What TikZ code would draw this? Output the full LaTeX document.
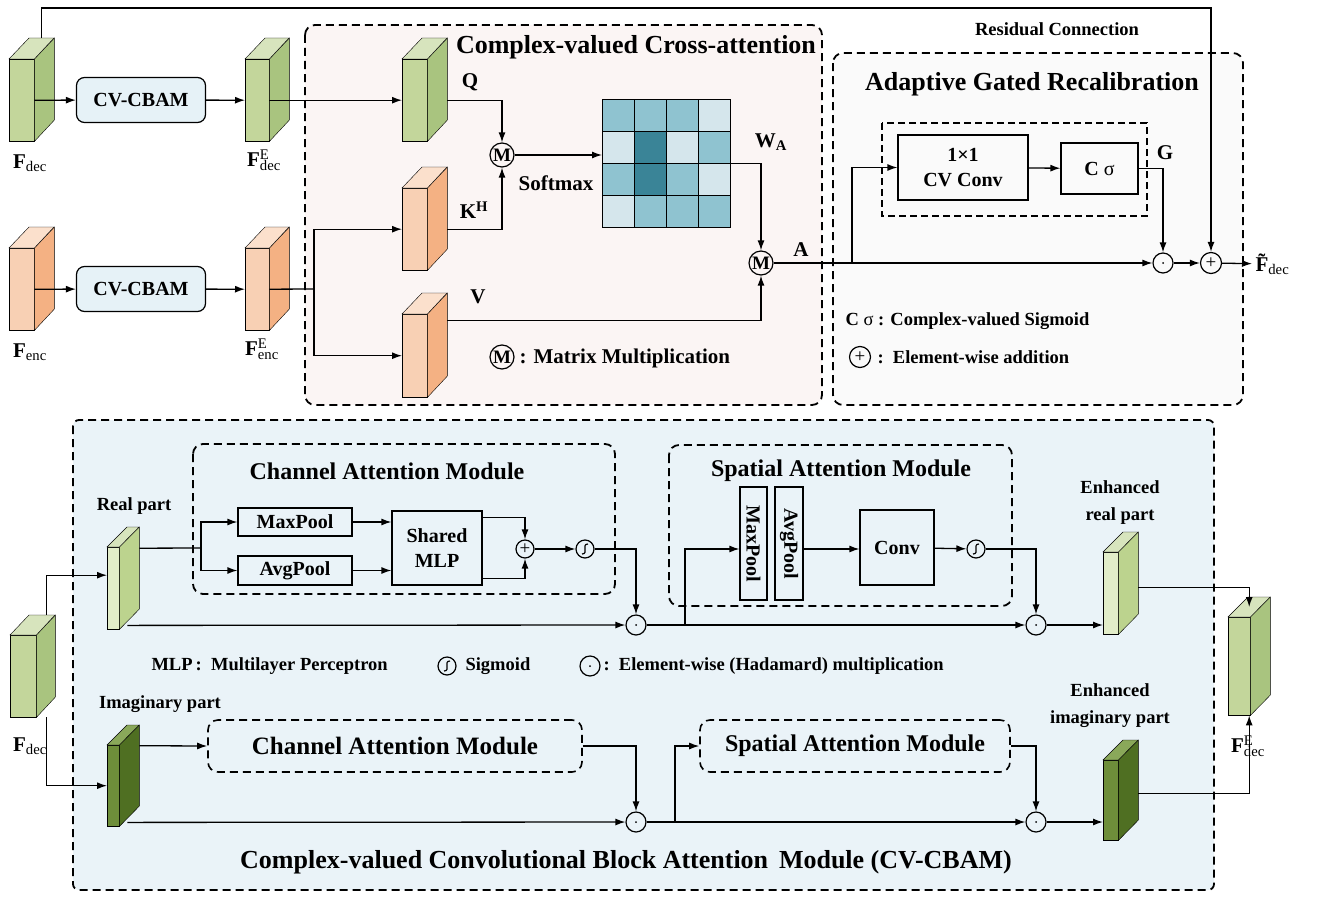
\documentclass[tikz,border=0pt]{standalone}
\usepackage{fontspec}
\setmainfont{Liberation Serif}
\usetikzlibrary{arrows.meta,calc}

\definecolor{gr-f}{HTML}{C3D69B}
\definecolor{gr-s}{HTML}{A9C47F}
\definecolor{gr-t}{HTML}{D7E4BD}
\definecolor{or-f}{HTML}{F8D0B4}
\definecolor{or-s}{HTML}{F4B183}
\definecolor{or-t}{HTML}{FBE0CC}
\definecolor{lg-f}{HTML}{E2EDC9}
\definecolor{lg-s}{HTML}{BCD38E}
\definecolor{lg-t}{HTML}{D7E4BD}
\definecolor{dg-f}{HTML}{6E8E3A}
\definecolor{dg-s}{HTML}{4F6F22}
\definecolor{dg-t}{HTML}{8AA85A}
\definecolor{wa-l}{HTML}{D5E6EC}
\definecolor{wa-m}{HTML}{8FC3D0}
\definecolor{wa-d}{HTML}{3A8497}
\definecolor{cbamfill}{HTML}{E6F2F7}
\definecolor{crossfill}{HTML}{FBF5F4}
\definecolor{agrfill}{HTML}{FAFAFA}
\definecolor{panelfill}{HTML}{EAF3F8}

% feature map: name, x, y, width, height, dx, dy, colour scheme
\newcommand{\fmap}[8]{%
  \node[draw, fill=#8-f, minimum width=#4, minimum height=#5, inner sep=0,
        anchor=north west] (#1) at (#2,#3) {};
  \draw[fill=#8-s] (#1.north east) -- ++(#6,-#7) -- ++(0,#5) -- (#1.south east) -- cycle;
  \draw[fill=#8-t] (#1.north west) -- ++(#6,-#7) -- ++(#4,0) -- (#1.north east) -- cycle;}
\newcommand{\fsub}[2]{F\rlap{\textsuperscript{\normalfont #1}}\textsubscript{\normalfont #2}}

\tikzset{
  arr/.style={-{Latex[length=10pt,width=7pt]}, line width=1.3pt},
  ln/.style={line width=1.3pt},
  frame/.style={dashed, line width=1.8pt, dash pattern=on 8pt off 5pt, rounded corners=10pt},
  box/.style={draw, line width=1.2pt, inner sep=0, font=\fontsize{20}{23}\selectfont\bfseries},
  cbam/.style={box, rounded corners=8pt, fill=cbamfill},
  lbl/.style={font=\fontsize{21}{23}\selectfont\bfseries},
  sml/.style={font=\fontsize{18.5}{21}\selectfont\bfseries},
  ttl/.style={font=\fontsize{26}{28}\selectfont\bfseries},
  mc/.style={circle, draw, line width=1.2pt, minimum size=24pt, inner sep=0,
             font=\fontsize{19}{20}\selectfont\bfseries},
  pl/.style={circle, draw, line width=1.2pt, minimum size=21pt, inner sep=0,
             font=\fontsize{19}{20}\selectfont},
  od/.style={circle, draw, line width=1.2pt, minimum size=20pt, inner sep=0,
             path picture={\fill (path picture bounding box.center) circle (1pt);}},
  sg/.style={circle, draw, line width=1.2pt, minimum size=18pt, inner sep=0,
             path picture={\draw[line width=1.2pt] (path picture bounding box.center) ++(-3pt,-5pt)
               .. controls +(7pt,0pt) and +(-7pt,0pt) .. ++(6pt,10pt);}}
}

\begin{document}
\begin{tikzpicture}[x=1pt, y=-1pt]
\useasboundingbox (0,0) rectangle (1321,899);

% ---------- frames ----------
\draw[frame, fill=crossfill] (305,25) rectangle (822,405);
\draw[frame, fill=agrfill] (833,53) rectangle (1243,405);
\draw[frame, rounded corners=6pt, fill=panelfill] (73,420) rectangle (1214,890);
\node[ttl] (cross) at (636,47) {Complex-valued Cross-attention};
\node[ttl] (agr) at (1032,84) {Adaptive Gated Recalibration};
\node[ttl] (cvcbam) at (626,862) {Complex-valued Convolutional Block Attention\, Module (CV-CBAM)};
\node[sml] (res) at (1057,29) {Residual Connection};

% ---------- top: feature maps ----------
\fmap{fdec}{9}{59}{25}{82}{20}{21}{gr}
\fmap{fdece}{245}{59}{24}{82}{20}{21}{gr}
\fmap{fenc}{9}{248}{25}{82}{20}{21}{or}
\fmap{fence}{245}{248}{24}{82}{20}{21}{or}
\fmap{q}{402}{59}{25}{82}{20}{21}{gr}
\fmap{k}{402}{188}{25}{82}{20}{21}{or}
\fmap{v}{402}{314}{25}{83}{20}{21}{or}

\node[lbl] (lfdec) at (30,163) {\fsub{}{dec}};
\node[lbl] (lfdece) at (264,160) {\fsub{E}{dec}};
\node[lbl] (lfenc) at (30,352) {\fsub{}{enc}};
\node[lbl] (lfence) at (262,349) {\fsub{E}{enc}};

\node[cbam, minimum width=129, minimum height=45] (cb1) at (141,100) {CV-CBAM};
\node[cbam, minimum width=129, minimum height=45] (cb2) at (141,289) {CV-CBAM};

\node[mc] (m1) at (502,155) {M};
\node[mc] (m2) at (761,263) {M};
\node[lbl] (lq) at (470,82) {Q};
\node[lbl] (lk) at (474,210) {K\textsuperscript{H}};
\node[lbl] (lv) at (478,297) {V};
\node[lbl] (lsm) at (556,183) {Softmax};
\node[lbl] (lwa) at (771,142) {W\textsubscript{A}};
\node[lbl] (la) at (801,250) {A};

% attention weights
\foreach \row [count=\r from 0] in {{m,m,m,l},{l,d,l,m},{m,d,m,l},{l,m,m,m}}
  \foreach \col [count=\c from 0] in \row
    \draw[fill=wa-\col, line width=1pt] (602+32*\c,99+32*\r) rectangle ++(32,32);
\node[minimum width=128, minimum height=128, inner sep=0, anchor=north west] (wa) at (602,99) {};

% legend
\node[mc] (mlg) at (502,357) {M};
\node[lbl, anchor=west] (mlgt) at (516,358) {: Matrix Multiplication};

% connectors
\draw[arr] (fdec.east) -- (cb1);
\draw[arr] (cb1) -- (fdece.west);
\draw[arr] (fenc.east) -- (cb2);
\draw[arr] (cb2) -- (fence.west);
\draw[arr] (fdece.east) -- (q.west);
\coordinate (sp) at (314,289);
\draw[ln] (fence.east) -- (sp);
\draw[arr] (sp) |- (k.west);
\draw[arr] (sp) |- (v.west);
\draw[arr] ([xshift=20pt]q.east) -| (m1);
\draw[arr] ([xshift=20pt]k.east) -| (m1);
\draw[arr] (m1) -- (m1 -| wa.west);
\draw[arr] (wa.east) -| (m2);
\draw[arr] ([xshift=20pt,yshift=35pt]v.east) -| (m2);

% ---------- adaptive gated recalibration ----------
\draw[dashed, line width=1.2pt, dash pattern=on 7pt off 4pt] (882,123) rectangle (1147,216);
\node[box, minimum width=130, minimum height=65, align=center] (conv) at (963,167.5) {1\texttimes1\\[2pt]CV Conv};
\node[box, minimum width=77, minimum height=51] (csig) at (1099.5,168.5) {C {\normalfont σ}};
\node[lbl] (lg) at (1165,153) {G};
\node[od] (od0) at (1163,263) {};
\node[pl] (plus) at (1211,263) {+};
\node[lbl, anchor=west] (fout) at (1252,264) {\~{F}\textsubscript{\normalfont dec}};
\coordinate (br) at (852,263);
\coordinate (rtop) at (1211,8);

\draw[ln] (m2) -- (br);
\draw[arr] (br) -- (od0);
\draw[arr] (br) |- (conv.west);
\draw[arr] (conv) -- (csig);
\draw[arr] (csig.east) -| (od0);
\draw[arr] (od0) -- (plus);
\draw[arr] (plus) -- (fout);
\draw[arr] ([xshift=20pt,yshift=21pt]fdec.north) |- (rtop) -- (plus);

\node[sml, anchor=west] (lcs) at (842,321) {C {\normalfont σ} : Complex-valued Sigmoid};
\node[pl] (plg) at (860,357) {+};
\node[sml, anchor=west] (plgt) at (874,357) {:\ \ Element-wise addition};

% ---------- CV-CBAM panel ----------
\draw[frame] (193,444) rectangle (615,594);
\draw[frame] (669,445) rectangle (1012,606);
\node[ttl, font=\fontsize{24}{28}\selectfont\bfseries] (cam) at (387,471) {Channel Attention Module};
\node[ttl, font=\fontsize{24}{28}\selectfont\bfseries] (sam) at (841,471) {Spatial Attention Module};

\fmap{fd2}{10}{635}{26}{82}{19}{20}{gr}
\fmap{rp}{107}{547}{12}{82}{20}{20}{lg}
\fmap{im}{107}{745}{12}{81}{20}{20}{dg}
\fmap{er}{1103}{552}{15}{82}{20}{20}{lg}
\fmap{ei}{1103}{760}{15}{80}{20}{20}{dg}
\fmap{fe}{1228}{617}{22}{98}{20}{20}{gr}

\node[lbl] (lfd2) at (30,746) {\fsub{}{dec}};
\node[lbl] (lfe) at (1248,746) {\fsub{E}{dec}};
\node[sml] (lrp) at (134,506) {Real part};
\node[sml] (lim) at (160,704) {Imaginary part};
\node[sml, align=center] (ler) at (1120,503) {Enhanced\\[6pt]real part};
\node[sml, align=center] (lei) at (1110,706) {Enhanced\\[6pt]imaginary part};

\node[box, minimum width=114, minimum height=28] (maxp) at (295,522) {MaxPool};
\node[box, minimum width=114, minimum height=29] (avgp) at (295,570.5) {AvgPool};
\node[box, minimum width=90, minimum height=74, align=center] (mlp) at (437,548) {Shared\\[2pt]MLP};
\node[pl, minimum size=18pt] (pl2) at (525,549) {+};
\node[sg] (sg1) at (585,549) {};
\node[box, minimum width=113, minimum height=27, rotate=-90] (mxv) at (753.5,543.5) {MaxPool};
\node[box, minimum width=113, minimum height=28, rotate=-90] (avv) at (789,543.5) {AvgPool};
\node[box, minimum width=74, minimum height=75] (scv) at (897,547.5) {Conv};
\node[sg] (sg2) at (976,549) {};
\node[od] (od1) at (636,625) {};
\node[od] (od2) at (1036,625) {};
\node[od] (od3) at (636,822) {};
\node[od] (od4) at (1036,822) {};
\node[box, dashed, line width=1.6pt, dash pattern=on 8pt off 5pt, rounded corners=10pt,
      minimum width=374, minimum height=52, font=\fontsize{25}{28}\selectfont\bfseries] (cam2) at (395,746) {Channel Attention Module};
\node[box, dashed, line width=1.6pt, dash pattern=on 8pt off 5pt, rounded corners=10pt,
      minimum width=310, minimum height=52, font=\fontsize{24}{28}\selectfont\bfseries] (sam2) at (855,746) {Spatial Attention Module};

\coordinate (sp2) at (201,548);
\coordinate (br1) at (685,625);
\coordinate (br2) at (675,822);
\draw[arr] ([xshift=23pt,yshift=20pt]fd2.north) |- ([yshift=13pt]rp.west);
\draw[arr] ([xshift=23pt]fd2.south) |- (im.west);
\draw[ln] ([xshift=20pt,yshift=40pt]rp.east) -- (sp2);
\draw[arr] (sp2) |- (maxp.west);
\draw[arr] (sp2) |- (avgp.west);
\draw[arr] (maxp) -- (maxp -| mlp.west);
\draw[arr] (avgp) -- (avgp -| mlp.west);
\draw[arr] ([yshift=-7pt]mlp.north east) -| (pl2);
\draw[arr] ([yshift=7pt]mlp.south east) -| (pl2);
\draw[arr] (pl2) -- (sg1);
\draw[arr] (sg1.east) -| (od1);
\draw[arr] ([xshift=8pt,yshift=4pt]rp.south east) -- (od1);
\draw[ln] (od1) -- (br1);
\draw[arr] (br1) -- (od2);
\draw[arr] (br1) |- ([yshift=-5.5pt]mxv.south);
\draw[arr] ([yshift=-5.5pt]avv.north) -- ([yshift=-5.5pt]avv.north -| scv.west);
\draw[arr] (scv) -- (sg2);
\draw[arr] (sg2.east) -| (od2);
\draw[arr] (od2) -- (od2 -| er.west);
\draw[arr] ([xshift=20pt,yshift=6pt]er.east) -| ([xshift=10pt,yshift=10pt]fe.north);

\draw[arr] ([xshift=20pt,yshift=40pt]im.east) -- (cam2.west);
\draw[arr] (cam2.east) -| (od3);
\draw[arr] ([xshift=8pt,yshift=4pt]im.south east) -- (od3);
\draw[ln] (od3) -- (br2);
\draw[arr] (br2) -- (od4);
\draw[arr] (br2) |- (sam2.west);
\draw[arr] (sam2.east) -| (od4);
\draw[arr] (od4) -- (od4 -| ei.west);
\draw[arr] ([xshift=20pt,yshift=7pt]ei.east) -| ([xshift=10pt]fe.south);

% legend
\node[sml, anchor=west] (lmlp) at (148,666) {MLP\,:\ \ Multilayer Perceptron};
\node[sg] (sglg) at (447,666) {};
\node[sml, anchor=west] (lsg) at (462,666) {Sigmoid};
\node[od] (odlg) at (590,666) {};
\node[sml, anchor=west] (lod) at (600,666) {:\ \ Element-wise (Hadamard) multiplication};
\end{tikzpicture}
\end{document}
